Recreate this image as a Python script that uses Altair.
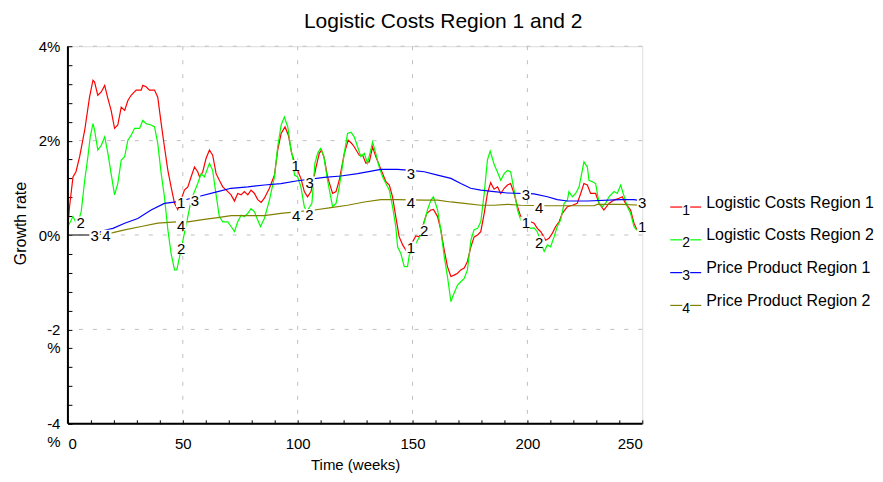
import altair as alt
import pandas as pd

FONT = "Liberation Sans"

series_names = ["Logistic Costs Region 1", "Logistic Costs Region 2",
                "Price Product Region 1", "Price Product Region 2"]
series_digits = ["1", "2", "3", "4"]
series_colors = ["#ff0000", "#00ff00", "#0000ff", "#808000"]
legend_rank = [0, 1, 2, 3]

# Logistic Costs Region 1 (red)
red_t = [0, 0.7, 2.2, 3.5, 5.1, 7.3, 9.4, 10.9, 11.6, 13, 14.5, 16, 17.4, 18.8, 20.3, 21.7, 23.2,
         24.7, 26.1, 27.5, 29.7, 31.9, 32.6, 34, 35.5, 37.7, 39.1, 40.6, 42, 43.5, 44.9, 46.4, 47.8,
         50.7, 52.2, 53.6, 55.1, 56.5, 57.3, 58.7, 60.1, 61.6, 63, 64.5, 65.9, 67.4, 69.6, 71, 72.5,
         73.9, 75.4, 76.8, 78.3, 79.7, 81.2, 82.6, 84.1, 85.5, 87.7, 89.9, 91.3, 92.8, 94.5, 96, 97.4,
         99.3, 101.4, 102.9, 104.3, 105.8, 108, 109.4, 110.4, 111.6, 113, 115.2, 116.7, 118.1, 120.3,
         122, 123.5, 124.6, 126.8, 128.3, 129.7, 131.2, 132.6, 134, 135.5, 137, 138.4, 139.9, 141.3,
         142.7, 144.2, 145.7, 147.1, 147.8, 151.4, 152.9, 156.2, 158, 159.1, 160.9, 162.3, 163.8,
         165.2, 166.7, 168.1, 169.6, 171, 172.5, 173.9, 175.4, 176.8, 178.3, 179.7, 181.2, 182.6, 184,
         185.5, 187, 188.4, 189.9, 191.3, 192.7, 194.2, 195.7, 197.1, 201.4, 202.9, 204.3, 205.8, 208,
         209.4, 210.9, 212.3, 213.8, 215.2, 217.4, 219.6, 221.7, 223.2, 224.6, 226.1, 227.5, 229.7,
         231.2, 233.3, 235.5, 237.7, 239.9, 241.3, 242.7, 244.9, 246.4, 247.4, 249]
red_v = [0.18, 0.6, 1.23, 1.34, 1.66, 2.22, 2.92, 3.28, 3.24, 2.96, 3.03, 3.17, 2.89, 2.64, 2.26, 2.33,
         2.71, 2.64, 2.85, 2.96, 3.07, 3.07, 3.17, 3.14, 3.07, 3.07, 2.92, 2.36, 1.87, 1.37, 1.02, 0.67,
         0.54, 0.95, 1.02, 1.23, 1.44, 1.34, 1.23, 1.34, 1.62, 1.80, 1.69, 1.30, 1.16, 1.02, 0.92, 0.85,
         0.72, 0.88, 0.85, 0.92, 0.85, 0.95, 0.88, 0.75, 0.69, 0.78, 0.99, 1.27, 1.80, 2.15, 2.29, 2.11,
         1.73, 1.45, 1.20, 0.92, 0.81, 0.92, 1.44, 1.73, 1.80, 1.62, 1.23, 0.88, 0.92, 1.16, 1.73, 2.01,
         1.94, 1.87, 1.69, 1.69, 1.52, 1.55, 1.87, 1.66, 1.48, 1.30, 1.13, 1.06, 0.81, 0.39, -0.04,
         -0.21, -0.32, -0.35, -0.02, -0.04, 0.46, 0.53, 0.54, 0.39, 0.11, -0.32, -0.67, -0.88, -0.85,
         -0.81, -0.74, -0.70, -0.56, -0.25, -0.04, 0.0, 0.07, 0.46, 0.88, 1.11, 0.97, 1.02, 0.88, 0.99,
         1.06, 1.09, 0.88, 0.60, 0.39, 0.28, 0.25, 0.14, 0.07, -0.11, -0.07, 0.04, 0.18, 0.28, 0.46,
         0.60, 0.63, 0.67, 0.88, 1.09, 1.06, 0.88, 0.88, 0.67, 0.53, 0.67, 0.74, 0.78, 0.81, 0.67, 0.53,
         0.25, 0.14, 0.10]

# Logistic Costs Region 2 (green)
green_t = [0, 2.2, 3.6, 4.5, 5.8, 7.3, 8.7, 9.7, 10.9, 11.6, 13, 14.5, 16, 17.4, 18.8, 20.3, 21.7,
           23.2, 24.7, 26.1, 27.5, 29, 31.2, 32.6, 34, 36.2, 37.7, 39.1, 40.6, 42, 43.5, 44.9, 46.4,
           47.4, 48.6, 50.7, 52.2, 53.6, 56.5, 58, 59.4, 61.6, 63, 64.5, 65.9, 67.4, 69.6, 71, 72.5,
           73.9, 75.4, 76.8, 78.3, 79.7, 81.2, 82.6, 83.8, 85.5, 87.7, 89.9, 91.3, 92.8, 94.2, 95.7,
           97.1, 97.8, 98.6, 100, 101.4, 102.9, 104, 106.2, 107.5, 108.7, 109.9, 111.3, 113, 115.2,
           116.7, 118.1, 120.3, 121.7, 123.2, 124.6, 126.1, 127.5, 129, 130.4, 132.6, 134, 135.5, 137,
           138.4, 139.9, 141.3, 142.7, 143.5, 144.9, 146.4, 147.8, 148.6, 152.2, 153.6, 156.5, 158,
           159.1, 160.9, 162.3, 163.8, 165.2, 166.7, 168.1, 169.6, 171, 172.5, 173.9, 175.4, 176.8,
           178.3, 179.7, 181.2, 182.6, 183.8, 185.5, 187, 188.4, 189.9, 191.3, 192.7, 194.2, 195.7,
           197.1, 197.8, 201.4, 202.9, 204.3, 207.3, 208.7, 210.1, 211.6, 213, 214.5, 216, 217.4,
           218.1, 219.6, 221, 222.5, 223.9, 224.6, 226.1, 226.8, 228.3, 229.7, 231.2, 232.6, 234,
           235.5, 237.7, 239.1, 240.6, 241.7, 243.5, 244.9, 246.4, 247.4, 249]
green_v = [0.18, 0.39, 0.25, 0.28, 0.50, 1.16, 1.66, 2.08, 2.36, 2.22, 1.80, 1.90, 2.08, 1.73, 1.30,
           0.85, 1.09, 1.59, 1.66, 2.01, 2.11, 2.26, 2.26, 2.43, 2.36, 2.33, 2.29, 1.94, 1.30, 0.81,
           0.11, -0.39, -0.74, -0.74, -0.46, 0.04, 0.39, 0.74, 1.09, 1.30, 1.23, 1.52, 1.37, 0.85, 0.39,
           0.28, 0.28, 0.18, 0.07, 0.28, 0.42, 0.39, 0.46, 0.56, 0.49, 0.32, 0.18, 0.35, 0.74, 1.23,
           1.87, 2.33, 2.50, 2.29, 1.80, 1.66, 1.27, 1.23, 1.02, 0.60, 0.50, 0.67, 1.52, 1.73, 1.83,
           1.69, 1.16, 0.60, 0.67, 1.02, 1.73, 2.15, 2.18, 2.08, 1.87, 1.66, 1.73, 1.52, 1.97, 1.73,
           1.44, 1.23, 1.09, 0.95, 0.60, 0.18, -0.25, -0.39, -0.67, -0.67, -0.42, -0.11, 0.0, 0.53,
           0.74, 0.81, 0.53, 0.11, -0.46, -0.88, -1.41, -1.23, -1.06, -0.99, -0.92, -0.74, -0.11, 0.11,
           0.14, 0.28, 0.88, 1.59, 1.78, 1.50, 1.33, 1.16, 1.30, 1.37, 1.34, 0.95, 0.53, 0.32, 0.28,
           0.14, 0.15, 0.07, -0.35, -0.21, -0.25, -0.04, 0.18, 0.32, 0.67, 0.74, 0.92, 0.81, 0.88,
           1.02, 1.37, 1.55, 1.44, 1.16, 1.13, 1.09, 0.67, 0.60, 0.67, 0.81, 0.92, 0.88, 1.06, 0.88,
           0.60, 0.46, 0.18, 0.11, 0.10]

# Price Product Region 1 (blue)
blue_t = [0, 10, 13.3, 16, 19.6, 24.7, 30.4, 36.2, 42, 47.1, 56.5, 65.2, 71, 78.3, 85.5, 92.7, 100,
          111.6, 118.8, 126.1, 136.2, 143.5, 149.3, 155.1, 160.9, 166.7, 171, 175.3, 179.7, 185.5,
          191.3, 202.9, 208.7, 213, 217.4, 226.1, 240.6, 246.4, 250]
blue_v = [0, 0, 0.05, 0.10, 0.14, 0.25, 0.35, 0.53, 0.67, 0.70, 0.81, 0.92, 0.99, 1.02, 1.06, 1.09,
          1.15, 1.22, 1.25, 1.30, 1.39, 1.39, 1.37, 1.34, 1.27, 1.20, 1.09, 0.99, 0.95, 0.92, 0.89,
          0.87, 0.81, 0.75, 0.72, 0.72, 0.75, 0.75, 0.72]

# Price Product Region 2 (olive)
olive_t = [0, 8.7, 16.7, 19.6, 24.7, 31.9, 39.1, 47.1, 52.2, 59.4, 65.2, 71, 85.5, 92.7, 107.3,
           114.5, 121.7, 129, 136.2, 143.5, 155.1, 160.9, 166.7, 172.5, 179.7, 185.5, 191.3, 197.1,
           208.7, 217.4, 229, 230.4, 240.6, 250]
olive_v = [0, 0, 0.02, 0.05, 0.11, 0.18, 0.25, 0.28, 0.28, 0.33, 0.37, 0.41, 0.41, 0.46, 0.53, 0.58,
           0.63, 0.70, 0.75, 0.75, 0.74, 0.74, 0.70, 0.67, 0.63, 0.63, 0.65, 0.63, 0.62, 0.62, 0.62,
           0.65, 0.65, 0.63]

# Line labels (digit markers on the curves)
label_digit = ["1", "1", "1", "1", "1",
               "2", "2", "2", "2", "2",
               "3", "3", "3", "3", "3", "3",
               "4", "4", "4", "4", "4"]
label_t = [49.3, 99.1, 149.3, 199.3, 250,
           5.5, 49.3, 105.1, 155.1, 205.1,
           11.6, 55.3, 105.2, 149.3, 199.3, 250,
           16.7, 49.3, 99.3, 149.3, 205.1]
label_v = [0.70, 1.48, -0.25, 0.28, 0.19,
           0.28, -0.28, 0.44, 0.11, -0.14,
           0.0, 0.74, 1.13, 1.31, 0.87, 0.70,
           0.0, 0.21, 0.42, 0.70, 0.60]

x_ticks = [i * 10 for i in range(26)]
y_ticks = [round(-4 + i * 0.4, 1) for i in range(21)]
x_grid = [50, 100, 150, 200]
y_grid = [-2, 0, 2, 4]

# ---------- build tables ----------
rows = []
for name, ts, vs in zip(series_names, [red_t, green_t, blue_t, olive_t],
                        [red_v, green_v, blue_v, olive_v]):
    for i, (t, v) in enumerate(zip(ts, vs)):
        rows.append({"name": name, "t": t, "v": v, "i": i})
lines_df = pd.DataFrame(rows)

digit_to_name = dict(zip(series_digits, series_names))
labels_df = pd.DataFrame({"digit": label_digit, "t": label_t, "v": label_v,
                          "name": [digit_to_name[d] for d in label_digit]})
legend_df = pd.DataFrame({"name": series_names, "digit": series_digits, "k": legend_rank})

color_scale = alt.Scale(domain=series_names, range=series_colors)

x_axis = alt.Axis(values=x_ticks, labelExpr="datum.value % 50 == 0 ? datum.label : ''",
                  offset=-4, tickSize=4, tickColor="black", tickWidth=1, domain=False, grid=False,
                  labelFont=FONT, labelFontSize=15, labelColor="black", labelPadding=13,
                  title="Time (weeks)", titleFont=FONT, titleFontSize=15, titleFontWeight="normal",
                  titleColor="black", titlePadding=6)
y_axis = alt.Axis(values=y_ticks,
                  labelExpr="abs(datum.value - round(datum.value / 2) * 2) < 0.01 ? "
                            "(datum.value < 0 ? [toString(datum.value), '%'] : toString(datum.value) + '%') : ''",
                  offset=-4, tickSize=4, tickColor="black", tickWidth=1, domain=False, grid=False,
                  labelFont=FONT, labelFontSize=15, labelColor="black", labelPadding=8,
                  labelLineHeight=18,
                  title="Growth rate", titleFont=FONT, titleFontSize=16, titleFontWeight="normal",
                  titleColor="black", titlePadding=10, titleY=177)

def X(field="t"):
    return alt.X(f"{field}:Q", scale=alt.Scale(domain=[0, 250], nice=False, zero=False), axis=x_axis)

def Y(field="v"):
    return alt.Y(f"{field}:Q", scale=alt.Scale(domain=[-4, 4], nice=False, zero=False), axis=y_axis)

grid_x = alt.Chart(pd.DataFrame({"t": x_grid})).mark_rule(
    color="#c0c0c0", strokeDash=[4, 10], strokeWidth=1).encode(x=X())
grid_y = alt.Chart(pd.DataFrame({"v": y_grid})).mark_rule(
    color="#c0c0c0", strokeDash=[4, 10], strokeWidth=1).encode(y=Y())

lines = alt.Chart(lines_df).mark_line(strokeWidth=1.2, interpolate="linear").encode(
    x=X(), y=Y(), color=alt.Color("name:N", scale=color_scale, legend=None),
    order=alt.Order("i:Q"))

frame_left = alt.Chart(pd.DataFrame({"t": [0]})).mark_rule(color="black", strokeWidth=2).encode(x=X())
frame_bottom = alt.Chart(pd.DataFrame({"v": [-4]})).mark_rule(color="black", strokeWidth=2).encode(y=Y())

label_bg = alt.Chart(labels_df).mark_square(color="white", opacity=1, size=110).encode(x=X(), y=Y())
label_txt = alt.Chart(labels_df).mark_text(font=FONT, fontSize=15, color="black",
                                           align="center", baseline="middle", dy=1).encode(
    x=X(), y=Y(), text="digit:N")

main = alt.layer(grid_x, grid_y, lines, label_bg, label_txt, frame_left, frame_bottom)

leg_y = alt.Y("k:Q", scale=alt.Scale(domain=[0, 3], range=[156.5, 255], nice=False, zero=False),
              axis=None)
leg_line = alt.Chart(legend_df).mark_rule(strokeWidth=1.2, yOffset=4.5).encode(
    x=alt.value(603), x2=alt.value(634), y=leg_y,
    color=alt.Color("name:N", scale=color_scale, legend=None))
leg_bg = alt.Chart(legend_df).mark_square(color="white", opacity=1, size=64, yOffset=4.5).encode(
    x=alt.value(619), y=leg_y)
leg_digit = alt.Chart(legend_df).mark_text(font=FONT, fontSize=14, color="black",
                                           align="center", baseline="middle", dy=8).encode(
    x=alt.value(619), y=leg_y, text="digit:N")
leg_text = alt.Chart(legend_df).mark_text(font=FONT, fontSize=16, color="black",
                                          align="left", baseline="middle").encode(
    x=alt.value(639), y=leg_y, text="name:N")
legend = alt.layer(leg_line, leg_bg, leg_digit, leg_text)

chart = alt.layer(main, legend).resolve_scale(y="independent").properties(
    width=575, height=378,
    padding={"left": 4, "top": 3, "right": 0, "bottom": 0},
    title=alt.Title("Logistic Costs Region 1 and 2", anchor="middle", frame="bounds",
                    font=FONT, fontSize=21, fontWeight="normal", color="black", offset=7),
).configure_view(stroke="black", strokeWidth=1).configure(background="white")

chart.save("out.html", embed_options={"renderer": "svg", "actions": False})
